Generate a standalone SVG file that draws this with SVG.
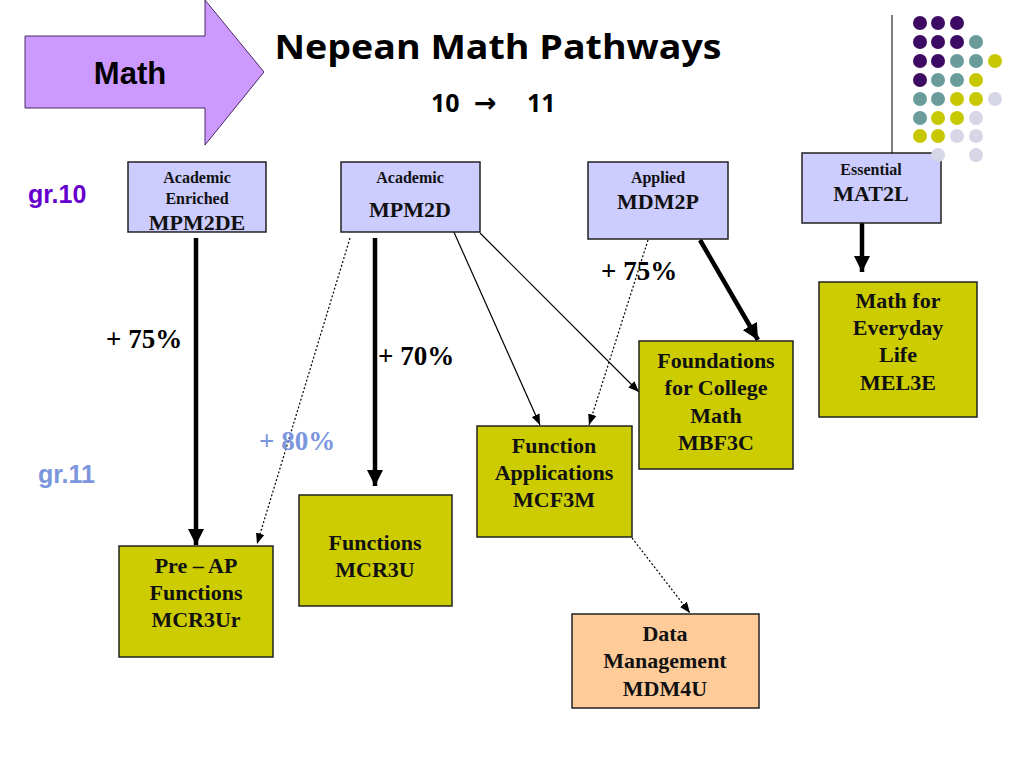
<svg xmlns="http://www.w3.org/2000/svg" width="1024" height="768" viewBox="0 0 1024 768">
<defs>
<style>
.box{stroke:#222;stroke-width:1.5}
.g10{fill:#ccccff}
.g11{fill:#cccc00}
.dm{fill:#ffcc99}
.t{font-family:"Liberation Serif","Times New Roman",serif;font-weight:bold;fill:#111;text-anchor:middle}
.s{font-size:16px}
.m{font-size:22px}
.lab{font-family:"Liberation Serif","Times New Roman",serif;font-weight:bold;font-size:27px;fill:#000}
.thick{stroke:#000;stroke-width:4.5;fill:none}
.thin{stroke:#000;stroke-width:1.2;fill:none}
.dot{stroke:#000;stroke-width:1.2;stroke-dasharray:2 2;fill:none}
.dP{fill:#3d0b63}.dT{fill:#6b9c9c}.dY{fill:#c8c800}.dL{fill:#d6d6e6}
</style>
<marker id="ah" viewBox="0 0 10 10" refX="10" refY="5" markerWidth="3.6" markerHeight="3.6" orient="auto" markerUnits="strokeWidth"><path d="M0,0 L10,5 L0,10 z" fill="#000"/></marker>
<marker id="ahs" viewBox="0 0 10 10" refX="10" refY="5" markerWidth="9" markerHeight="9" orient="auto" markerUnits="strokeWidth"><path d="M0,1 L10,5 L0,9 z" fill="#000"/></marker>
</defs>
<rect width="1024" height="768" fill="#fff"/>

<g id="math-arrow">
<polygon points="25,36 205,36 205,0 264,72 205,145 205,108 25,108" fill="#cc99ff" stroke="#4b2a66" stroke-width="1"/>
<text x="130" y="84" font-family="Liberation Sans,Arial,sans-serif" font-weight="bold" font-size="31" text-anchor="middle" fill="#000">Math</text>
</g>

<g id="title">
<text x="498" y="59" font-family="Comic Sans MS,Open Sans,sans-serif" font-weight="bold" font-size="34" text-anchor="middle" textLength="447" lengthAdjust="spacingAndGlyphs" fill="#000">Nepean Math Pathways</text>
<text y="112" font-family="Open Sans,sans-serif" font-weight="bold" font-size="25" fill="#000"><tspan x="431">10</tspan><tspan x="474" y="112" font-family="DejaVu Sans,sans-serif" font-size="27">→</tspan><tspan x="527" y="112">11</tspan></text>
</g>

<g id="grade-labels" font-family="Liberation Sans,Arial,sans-serif" font-weight="bold" font-size="25">
<text x="28" y="203" fill="#6600cc">gr.10</text>
<text x="38" y="483" fill="#7b96dc">gr.11</text>
</g>

<g id="connectors">
<line class="thick" x1="196" y1="238" x2="196" y2="545" marker-end="url(#ah)"/>
<line class="thick" x1="375" y1="238" x2="375" y2="486" marker-end="url(#ah)"/>
<line class="dot" x1="350" y1="238" x2="257" y2="544" marker-end="url(#ahs)"/>
<line class="thin" x1="453" y1="230" x2="540" y2="425" marker-end="url(#ahs)"/>
<line class="thin" x1="480" y1="233" x2="639" y2="392" marker-end="url(#ahs)"/>
<line class="dot" x1="648" y1="240" x2="589" y2="425" marker-end="url(#ahs)"/>
<line class="thick" x1="700" y1="240" x2="758" y2="340" marker-end="url(#ah)"/>
<line class="thick" x1="862" y1="223" x2="862" y2="272" marker-end="url(#ah)"/>
<line class="dot" x1="632" y1="538" x2="690" y2="613" marker-end="url(#ahs)"/>
</g>

<g id="edge-labels">
<text class="lab" x="106" y="348">+ 75%</text>
<text class="lab" x="378" y="365">+ 70%</text>
<text class="lab" x="259" y="450" style="fill:#7b96dc">+ 80%</text>
<text class="lab" x="601" y="280">+ 75%</text>
</g>

<g id="MPM2DE">
<rect class="box g10" x="128" y="162" width="138" height="70"/>
<text class="t s" x="197" y="183">Academic</text>
<text class="t s" x="197" y="204">Enriched</text>
<text class="t m" x="197" y="230">MPM2DE</text>
</g>

<g id="MPM2D">
<rect class="box g10" x="341" y="162" width="139" height="70"/>
<text class="t s" x="410" y="183">Academic</text>
<text class="t m" x="410" y="217">MPM2D</text>
</g>

<g id="MDM2P">
<rect class="box g10" x="588" y="162" width="140" height="77"/>
<text class="t s" x="658" y="183">Applied</text>
<text class="t m" x="658" y="209">MDM2P</text>
</g>

<g id="MAT2L">
<rect class="box g10" x="802" y="153" width="139" height="70"/>
<text class="t s" x="871" y="175">Essential</text>
<text class="t m" x="871" y="201">MAT2L</text>
</g>

<g id="MEL3E">
<rect class="box g11" x="819" y="282" width="158" height="135"/>
<text class="t m" x="898" y="308">Math for</text>
<text class="t m" x="898" y="335">Everyday</text>
<text class="t m" x="898" y="362">Life</text>
<text class="t m" x="898" y="390">MEL3E</text>
</g>

<g id="MBF3C">
<rect class="box g11" x="639" y="341" width="154" height="128"/>
<text class="t m" x="716" y="368">Foundations</text>
<text class="t m" x="716" y="395">for College</text>
<text class="t m" x="716" y="423">Math</text>
<text class="t m" x="716" y="450">MBF3C</text>
</g>

<g id="MCF3M">
<rect class="box g11" x="477" y="426" width="155" height="111"/>
<text class="t m" x="554" y="453">Function</text>
<text class="t m" x="554" y="480">Applications</text>
<text class="t m" x="554" y="507">MCF3M</text>
</g>

<g id="MDM4U">
<rect class="box dm" x="572" y="614" width="187" height="94"/>
<text class="t m" x="665" y="641">Data</text>
<text class="t m" x="665" y="668">Management</text>
<text class="t m" x="665" y="696">MDM4U</text>
</g>

<g id="MCR3Ur">
<rect class="box g11" x="119" y="546" width="154" height="111"/>
<text class="t m" x="196" y="573">Pre – AP</text>
<text class="t m" x="196" y="600">Functions</text>
<text class="t m" x="196" y="627">MCR3Ur</text>
</g>

<g id="MCR3U">
<rect class="box g11" x="299" y="495" width="153" height="111"/>
<text class="t m" x="375" y="550">Functions</text>
<text class="t m" x="375" y="577">MCR3U</text>
</g>

<g id="decoration">
<line x1="892" y1="15" x2="892" y2="153" stroke="#000" stroke-width="1"/>
<circle class="dP" cx="920" cy="23" r="7"/><circle class="dP" cx="938" cy="23" r="7"/><circle class="dP" cx="957" cy="23" r="7"/>
<circle class="dP" cx="920" cy="42" r="7"/><circle class="dP" cx="938" cy="42" r="7"/><circle class="dP" cx="957" cy="42" r="7"/><circle class="dT" cx="976" cy="42" r="7"/>
<circle class="dP" cx="920" cy="61" r="7"/><circle class="dP" cx="938" cy="61" r="7"/><circle class="dT" cx="957" cy="61" r="7"/><circle class="dT" cx="976" cy="61" r="7"/><circle class="dY" cx="995" cy="61" r="7"/>
<circle class="dP" cx="920" cy="80" r="7"/><circle class="dT" cx="938" cy="80" r="7"/><circle class="dT" cx="957" cy="80" r="7"/><circle class="dY" cx="976" cy="80" r="7"/>
<circle class="dT" cx="920" cy="99" r="7"/><circle class="dT" cx="938" cy="99" r="7"/><circle class="dY" cx="957" cy="99" r="7"/><circle class="dY" cx="976" cy="99" r="7"/><circle class="dL" cx="995" cy="99" r="7"/>
<circle class="dT" cx="920" cy="118" r="7"/><circle class="dY" cx="938" cy="118" r="7"/><circle class="dY" cx="957" cy="118" r="7"/><circle class="dL" cx="976" cy="118" r="7"/>
<circle class="dY" cx="920" cy="136" r="7"/><circle class="dY" cx="938" cy="136" r="7"/><circle class="dL" cx="957" cy="136" r="7"/><circle class="dL" cx="976" cy="136" r="7"/>
<circle class="dL" cx="938" cy="155" r="7"/><circle class="dL" cx="976" cy="155" r="7"/>
</g>
</svg>
